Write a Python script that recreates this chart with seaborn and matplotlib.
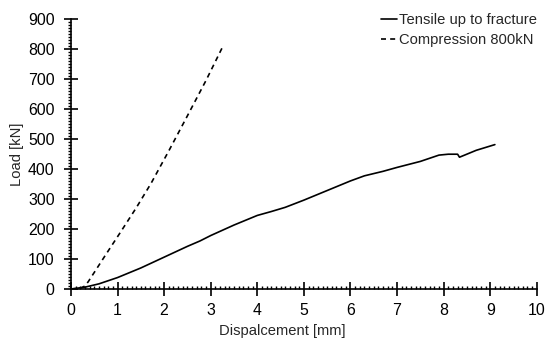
import numpy as np
import pandas as pd
import matplotlib
matplotlib.use("Agg")
import matplotlib.pyplot as plt
import seaborn as sns
from matplotlib.ticker import MultipleLocator
from matplotlib import font_manager

# Data
tensile_x = [0, 0.3, 0.6, 1.0, 1.5, 2.0, 2.5, 2.77, 3.0, 3.5, 4.0, 4.3, 4.6, 5.0, 5.5, 6.0, 6.3, 6.7, 7.0, 7.5, 7.9, 8.1, 8.3, 8.34, 8.45, 8.7, 9.1]
tensile_y = [0, 6, 17, 38, 70, 106, 142, 160, 178, 213, 245, 258, 272, 296, 328, 360, 377, 392, 405, 425, 446, 449, 449, 439, 446, 462, 481]

comp_x = [0, 0.2, 0.3, 0.37, 0.5, 0.75, 1.05, 1.4, 1.72, 2.1, 2.49, 2.9, 3.26]
comp_y = [0, 2, 10, 24, 55, 115, 186, 270, 352, 460, 574, 695, 808]

series_names = ["Tensile up to fracture", "Compression 800kN"]

df = pd.concat([
    pd.DataFrame({"x": tensile_x, "y": tensile_y, "series": series_names[0]}),
    pd.DataFrame({"x": comp_x, "y": comp_y, "series": series_names[1]}),
], ignore_index=True)

sns.set_style("ticks")
names = {f.name for f in font_manager.fontManager.ttflist}
narrow = "Liberation Sans Narrow" in names
fam = "Liberation Sans Narrow" if narrow else "Liberation Sans"
plt.rcParams["font.family"] = [fam, "DejaVu Sans"]
k = 1.0 if narrow else 0.85
fs_tick, fs_label, fs_leg = 13.5 * k, 12.5 * k, 12.5 * k

fig = plt.figure(figsize=(5.5, 3.49), dpi=100)
ax = fig.add_axes([0.129, 0.172, 0.847, 0.774])

sns.lineplot(data=df, x="x", y="y", style="series", style_order=series_names,
             dashes={series_names[0]: "", series_names[1]: (3, 2.5)},
             color="black", linewidth=1.2, sort=False, estimator=None, ax=ax)

ax.set_xlim(0, 10)
ax.set_ylim(0, 900)
ax.xaxis.set_major_locator(MultipleLocator(1))
ax.xaxis.set_minor_locator(MultipleLocator(0.1))
ax.yaxis.set_major_locator(MultipleLocator(100))
ax.yaxis.set_minor_locator(MultipleLocator(10))

for s in ["top", "right"]:
    ax.spines[s].set_visible(False)
for s in ["left", "bottom"]:
    ax.spines[s].set_linewidth(1.2)
    ax.spines[s].set_color("black")

ax.tick_params(which="major", direction="inout", length=9.5, width=1.2, colors="black",
               labelsize=fs_tick)
ax.tick_params(axis="y", which="major", pad=7)
ax.tick_params(axis="x", which="major", pad=5)
ax.tick_params(axis="y", which="minor", direction="out", length=2.5, width=1.0, colors="black")
ax.tick_params(axis="x", which="minor", direction="in", length=2.5, width=1.0, colors="black")

ax.set_xlabel("Dispalcement [mm]", fontsize=fs_label)
ax.set_ylabel("Load [kN]", fontsize=fs_label)
ax.xaxis.set_label_coords(0.453, -0.13)
ax.yaxis.set_label_coords(-0.1, 0.5)

leg = ax.legend(loc="upper right", bbox_to_anchor=(1.03, 1.07), frameon=False,
                fontsize=fs_leg, handlelength=1.1, handletextpad=0.15, labelspacing=0.4,
                title=None)

fig.savefig("out.png", dpi=100)
